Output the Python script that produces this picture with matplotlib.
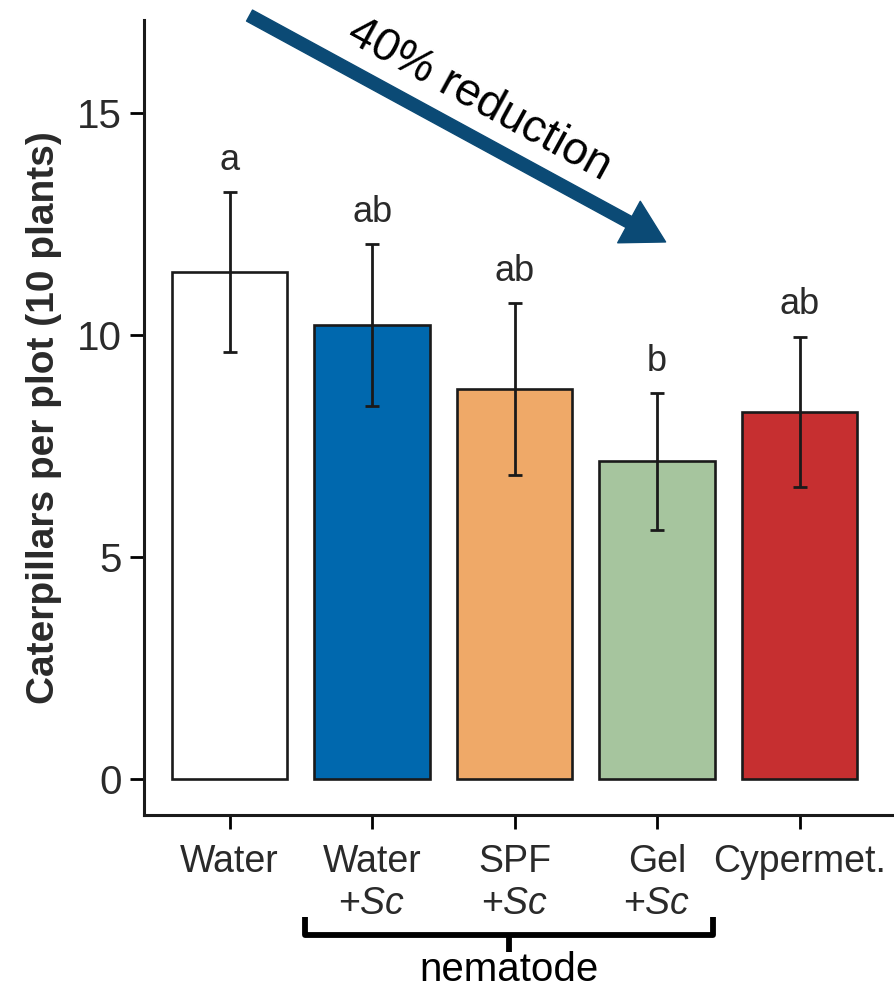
import numpy as np
import matplotlib.pyplot as plt
import matplotlib.transforms as mtransforms

plt.rcParams['font.family'] = ['Liberation Sans', 'DejaVu Sans']
plt.rcParams['mathtext.fontset'] = 'custom'
plt.rcParams['mathtext.rm'] = 'Liberation Sans'
plt.rcParams['mathtext.it'] = 'Liberation Sans:italic'

# data
treatments = ["Water", "Water\n+$\\it{Sc}$", "SPF\n+$\\it{Sc}$", "Gel\n+$\\it{Sc}$", "Cypermet."]
means = [11.42, 10.23, 8.78, 7.16, 8.27]
errors = [1.81, 1.83, 1.94, 1.54, 1.70]
letters = ["a", "ab", "ab", "b", "ab"]
colors = ["#ffffff", "#0068ae", "#efa968", "#a6c59e", "#c62f30"]

text_col = "#2a2a2a"
line_col = "#1a1a1a"

fig = plt.figure(figsize=(8.95, 9.91), dpi=100)
ax = fig.add_axes([0.161, 0.1776, 0.839, 0.8022])

x = np.arange(len(treatments))
ax.bar(x, means, width=0.81, color=colors, edgecolor=line_col, linewidth=1.9, zorder=2)
ax.errorbar(x, means, yerr=errors, fmt='none', ecolor=line_col, elinewidth=2.0,
            capsize=5, capthick=2.0, zorder=3)

# significance letters
for xi, m, e, lab in zip(x, means, errors, letters):
    ax.text(xi, m + e + 0.5, lab, ha='center', va='baseline', fontsize=26, color=text_col)

ax.set_xlim(-0.6, 4.67)
ax.set_ylim(-0.81, 17.1)
ax.set_yticks([0, 5, 10, 15])
ax.set_xticks(x)
ax.set_xticklabels(treatments, fontsize=27, color=text_col, linespacing=1.2)
ax.tick_params(axis='y', labelsize=29, labelcolor=text_col, length=10, width=2.0, pad=6)
ax.tick_params(axis='x', length=10, width=2.0, pad=11)

for side in ['top', 'right']:
    ax.spines[side].set_visible(False)
for side in ['left', 'bottom']:
    ax.spines[side].set_linewidth(2.2)
    ax.spines[side].set_color(line_col)

ax.set_ylabel("Caterpillars per plot (10 plants)", fontsize=28, fontweight='bold',
              color=text_col, labelpad=11)

# arrow + label
arrow_col = "#0b4a75"
ax.annotate("", xy=(3.06, 12.1), xytext=(0.14, 17.2), annotation_clip=False,
            arrowprops=dict(arrowstyle='simple,head_length=1.5,head_width=1.7,tail_width=0.45',
                            color=arrow_col, mutation_scale=20, shrinkA=0, shrinkB=0))
ax.text(1.75, 15.3, "40% reduction", rotation=-28.7, rotation_mode='anchor',
        ha='center', va='center', fontsize=33, color='black', clip_on=False)

# nematode bracket
trans = mtransforms.blended_transform_factory(ax.transData, ax.transAxes)
bx0, bx1 = 0.53, 3.39
bmid = (bx0 + bx1) / 2
ax.plot([bx0, bx0, bx1, bx1], [-0.128, -0.151, -0.151, -0.128], transform=trans,
        color='black', lw=4.2, clip_on=False, solid_joinstyle='round', solid_capstyle='butt')
ax.plot([bmid, bmid], [-0.151, -0.172], transform=trans, color='black', lw=4.2,
        clip_on=False, solid_capstyle='butt')
ax.text(bmid, -0.195, "nematode", transform=trans, ha='center', va='center',
        fontsize=29, color='black')

fig.savefig("out.png", dpi=100)
